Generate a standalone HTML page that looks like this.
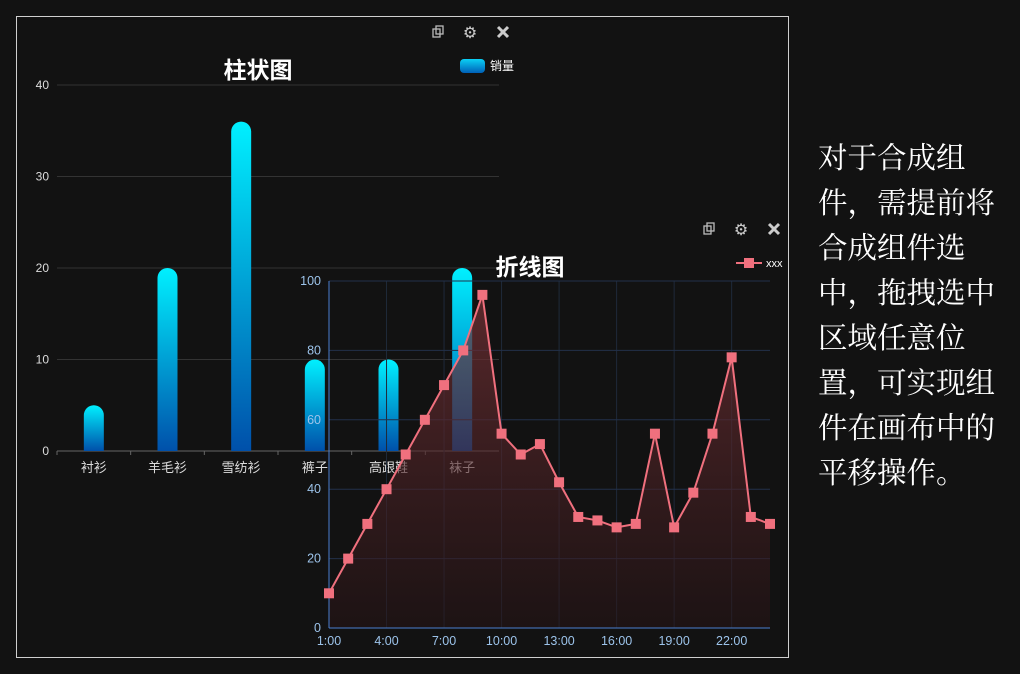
<!DOCTYPE html>
<html><head><meta charset="utf-8">
<style>
html,body{margin:0;padding:0;background:#121212;width:1020px;height:674px;overflow:hidden;font-family:"Liberation Sans","Noto Sans CJK SC",sans-serif}
#frame{position:absolute;left:16px;top:16px;width:773px;height:642px;border:1px solid #cfcfcf;box-sizing:border-box}
#side{position:absolute;left:818px;top:137px;width:182px;font-family:"Liberation Serif","Noto Serif CJK SC",serif;font-size:29.5px;line-height:45px;color:#fff}
svg{position:absolute;left:0;top:0}
</style></head><body>
<div id="frame"></div>
<svg id="bar" width="1020" height="674">
<defs>
<linearGradient id="bg" x1="0" y1="0" x2="0" y2="1"><stop offset="0" stop-color="#00f0ff"/><stop offset="1" stop-color="#0050aa"/></linearGradient>
<linearGradient id="lg" x1="0" y1="0" x2="0" y2="1"><stop offset="0" stop-color="#0bd0f5"/><stop offset="1" stop-color="#0060b8"/></linearGradient>
<linearGradient id="ag" x1="0" y1="0" x2="0" y2="1"><stop offset="0" stop-color="rgba(120,50,55,0.7)"/><stop offset="1" stop-color="rgba(40,20,22,0.5)"/></linearGradient>
</defs>
</svg>
<svg id="line" width="1020" height="674"></svg>
<div id="side">对于合成组件，需提前将合成组件选中，拖拽选中区域任意位置，可实现组件在画布中的平移操作。</div>
<script>
const barCats=["衬衫","羊毛衫","雪纺衫","裤子","高跟鞋","袜子"];
const barVals=[5,20,36,10,10,20];
const barTicks=[0,10,20,30,40];
const lineCats=["1:00","2:00","3:00","4:00","5:00","6:00","7:00","8:00","9:00","10:00","11:00","12:00","13:00","14:00","15:00","16:00","17:00","18:00","19:00","20:00","21:00","22:00","23:00","24:00"];
const lineVals=[10,20,30,40,50,60,70,80,96,56,50,53,42,32,31,29,30,56,29,39,56,78,32,30];
const lineTicks=[0,20,40,60,80,100];
const NS="http://www.w3.org/2000/svg";
function mk(p,t,a,txt){const e=document.createElementNS(NS,t);for(const k in a)e.setAttribute(k,a[k]);if(txt!==undefined)e.textContent=txt;p.appendChild(e);return e;}
const B=document.getElementById('bar');
const bx0=57,bx1=499,by0=451,by1=85,bmax=40;
const bw=(bx1-bx0)/barCats.length;
const byS=v=>by0-(by0-by1)*v/bmax;
barTicks.forEach(t=>{const g=mk(B,'g',{});

mk(g,'line',{x1:bx0,x2:bx1,y1:byS(t),y2:byS(t),stroke:t?'#333':'#666','stroke-width':1});
mk(g,'text',{x:bx0-8,y:byS(t)+4,'text-anchor':'end',fill:'#ddd','font-size':12},t);});
barCats.forEach((c,i)=>{const cx=bx0+bw*(i+0.5);const y=byS(barVals[i]);
const r=mk(B,'path',{d:`M${cx-10},${by0} V${y+10} A10,10 0 0 1 ${cx+10},${y+10} V${by0} Z`,fill:'url(#bg)'});

mk(B,'line',{x1:bx0+bw*i,x2:bx0+bw*i,y1:by0,y2:by0+4,stroke:'#666'});
const l=mk(B,'text',{x:cx,y:by0+21,'text-anchor':'middle',fill:'#ddd','font-size':13},c);
});
const bt=mk(B,'text',{x:258,y:78,'text-anchor':'middle',fill:'#fff','font-size':23,'font-weight':'bold'},'柱状图');

const lgr=mk(B,'rect',{x:460,y:59,width:25,height:14,rx:4,fill:'url(#lg)'});

const lgt=mk(B,'text',{x:490,y:70,fill:'#fff','font-size':12},'销量');

function toolbox(svg,x,y,pref){
 const g1=mk(svg,'g',{stroke:'#bbb',fill:'none','stroke-width':1.3});
 
 mk(g1,'rect',{x:x-5,y:y-3,width:7,height:8});mk(g1,'rect',{x:x-2,y:y-6,width:7,height:8});
 const g2=mk(svg,'text',{x:x+32,y:y+6,'text-anchor':'middle',fill:'#ccc','font-size':16},'⚙');
 
 const g3=mk(svg,'g',{stroke:'#ccc','stroke-width':3});
 
 mk(g3,'line',{x1:x+60,y1:y-5,x2:x+70,y2:y+5});mk(g3,'line',{x1:x+70,y1:y-5,x2:x+60,y2:y+5});
}
toolbox(B,438,32,'bar');
const L=document.getElementById('line');
const lx0=329,lx1=770,ly0=628,ly1=281,lmax=100;
const step=(lx1-lx0)/(lineCats.length-1);
const lxS=i=>lx0+step*i, lyS=v=>ly0-(ly0-ly1)*v/lmax;
for(let i=0;i<lineCats.length;i+=3){mk(L,'line',{x1:lxS(i),x2:lxS(i),y1:ly1,y2:ly0,stroke:'#1f2a3a'});}
lineTicks.forEach(t=>{const g=mk(L,'g',{});

if(t)mk(g,'line',{x1:lx0,x2:lx1,y1:lyS(t),y2:lyS(t),stroke:'#22304a'});
mk(g,'text',{x:lx0-8,y:lyS(t)+4,'text-anchor':'end',fill:'#9cc3ea','font-size':12.5},t);});
let pts=lineVals.map((v,i)=>lxS(i)+','+lyS(v)).join(' ');
const area=mk(L,'polygon',{points:`${lx0},${ly0} ${pts} ${lxS(lineVals.length-1)},${ly0}`,fill:'url(#ag)'});

mk(L,'line',{x1:lx0,x2:lx0,y1:ly1,y2:ly0,stroke:'#4a7fd0'});
mk(L,'line',{x1:lx0,x2:lx1,y1:ly0,y2:ly0,stroke:'#4a7fd0'});
for(let i=0;i<lineCats.length;i+=3){const t=mk(L,'text',{x:lxS(i),y:ly0+17,'text-anchor':'middle',fill:'#9cc3ea','font-size':12.5},lineCats[i]);
}
const pl=mk(L,'polyline',{points:pts,fill:'none',stroke:'#f0707e','stroke-width':2});

lineVals.forEach((v,i)=>{const r=mk(L,'rect',{x:lxS(i)-5,y:lyS(v)-5,width:10,height:10,fill:'#f0707e'});
});
const lt=mk(L,'text',{x:530,y:275,'text-anchor':'middle',fill:'#fff','font-size':23,'font-weight':'bold'},'折线图');

const lg=mk(L,'g',{});
mk(lg,'line',{x1:736,x2:762,y1:263,y2:263,stroke:'#f0707e','stroke-width':2});
mk(lg,'rect',{x:744,y:258,width:10,height:10,fill:'#f0707e'});
mk(lg,'text',{x:766,y:267,fill:'#fff','font-size':11},'xxx');
toolbox(L,709,229,'line');
</script>
</body></html>
